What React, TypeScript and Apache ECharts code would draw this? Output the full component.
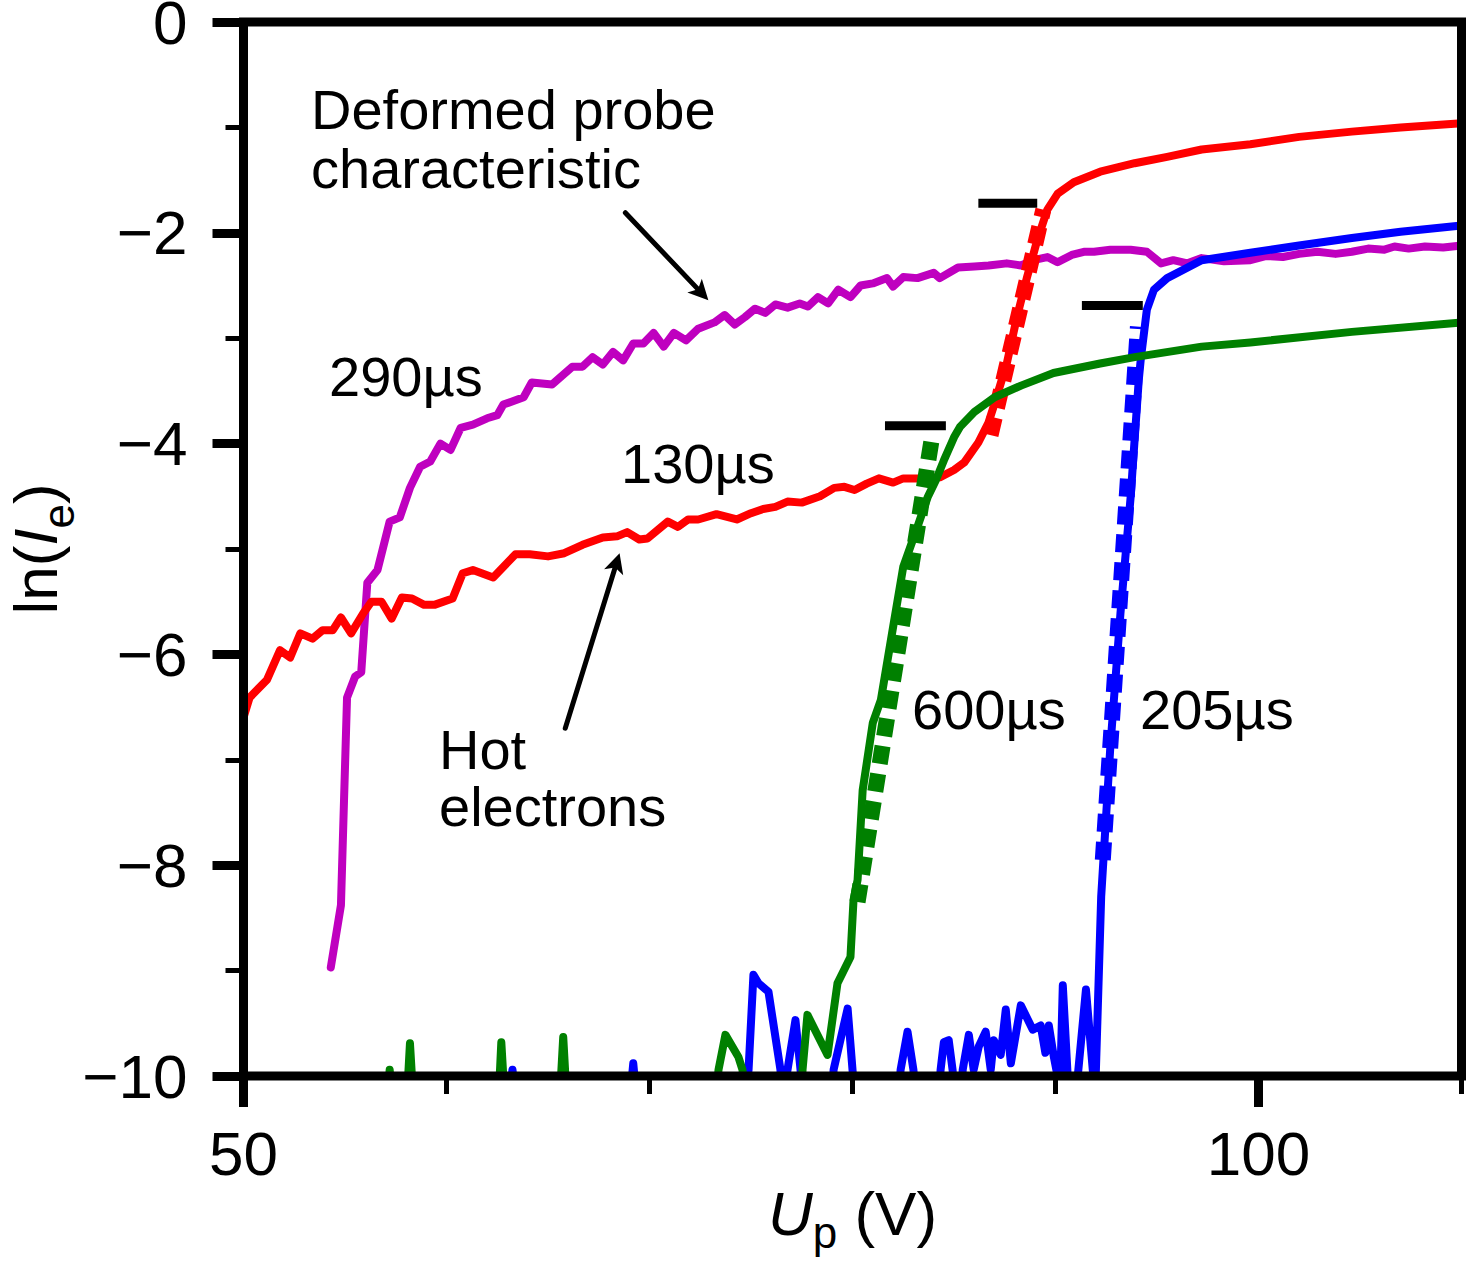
import React, { useEffect, useRef } from 'react';
import * as echarts from 'echarts';

const FONT = '"Liberation Sans", Arial, Helvetica, sans-serif';

const X_MIN = 50;
const X_MAX = 110;
const Y_MIN = -10;
const Y_MAX = 0;
const xMajorTicks = [50, 100];
const xAllTicksInterval = 10;
const yTickInterval = 2;

// 130 µs (red)
const curve130: [number, number][] = [
  [50, -6.6], [50.3, -6.41], [51.16, -6.24], [51.8, -5.96], [52.3, -6.03], [52.8, -5.8], [53.4, -5.85],
  [53.9, -5.77], [54.4, -5.77], [54.8, -5.65], [55.3, -5.8], [55.9, -5.61], [56.3, -5.5], [56.8, -5.5],
  [57.3, -5.66], [57.8, -5.46], [58.3, -5.47], [58.9, -5.53], [59.4, -5.53], [60.3, -5.47], [60.8, -5.23],
  [61.3, -5.2], [62.3, -5.27], [63.4, -5.05], [64.1, -5.05], [65.0, -5.07], [65.8, -5.04], [66.7, -4.96],
  [67.7, -4.89], [68.4, -4.88], [68.9, -4.84], [69.5, -4.91], [69.9, -4.9], [70.9, -4.74], [71.4, -4.79],
  [71.9, -4.72], [72.4, -4.72], [73.3, -4.67], [74.3, -4.72], [75.0, -4.66], [75.6, -4.62], [76.2, -4.6],
  [76.8, -4.55], [77.5, -4.56], [78.4, -4.5], [79.1, -4.42], [79.6, -4.41], [80.1, -4.44], [80.7, -4.38],
  [81.3, -4.33], [82.0, -4.37], [82.5, -4.33], [83.4, -4.33], [84.3, -4.32], [85.0, -4.25], [85.5, -4.18],
  [86.2, -3.99], [86.7, -3.8], [87.0, -3.62], [87.6, -3.24], [88.1, -2.8], [88.6, -2.42], [89.1, -2.07],
  [89.6, -1.78], [90.1, -1.63], [90.9, -1.52], [92.2, -1.42], [93.9, -1.34], [95.5, -1.28], [97.2, -1.21],
  [99.6, -1.16], [102.0, -1.09], [104.6, -1.04], [107.0, -1.0], [110, -0.96],
];

// 290 µs (magenta)
const curve290: [number, number][] = [
  [54.3, -8.97], [54.8, -8.38], [55.1, -6.41], [55.5, -6.21], [55.8, -6.17], [56.1, -5.32], [56.6, -5.2],
  [57.2, -4.74], [57.7, -4.7], [58.2, -4.42], [58.7, -4.22], [59.2, -4.17], [59.7, -4.0], [60.2, -4.06],
  [60.7, -3.85], [61.3, -3.82], [62.0, -3.76], [62.5, -3.73], [62.8, -3.63], [63.8, -3.56], [64.2, -3.42],
  [65.2, -3.44], [66.2, -3.27], [66.7, -3.27], [67.2, -3.18], [67.7, -3.25], [68.2, -3.13], [68.7, -3.21],
  [69.2, -3.05], [69.7, -3.05], [70.2, -2.95], [70.7, -3.08], [71.2, -2.95], [71.8, -3.02], [72.4, -2.91],
  [73.2, -2.85], [73.7, -2.78], [74.2, -2.87], [74.7, -2.8], [75.2, -2.72], [75.7, -2.76], [76.2, -2.68],
  [76.8, -2.71], [77.4, -2.67], [77.8, -2.7], [78.3, -2.61], [78.8, -2.67], [79.3, -2.54], [79.9, -2.61],
  [80.4, -2.5], [81.0, -2.48], [81.7, -2.43], [82.0, -2.51], [82.5, -2.42], [83.2, -2.43], [84.0, -2.38],
  [84.3, -2.43], [85.2, -2.33], [86.0, -2.32], [86.7, -2.31], [87.6, -2.29], [88.3, -2.31], [88.9, -2.26],
  [89.6, -2.23], [90.1, -2.28], [90.8, -2.21], [91.4, -2.18], [91.9, -2.18], [92.7, -2.16], [93.7, -2.16],
  [94.5, -2.18], [95.2, -2.29], [95.8, -2.26], [96.5, -2.29], [97.2, -2.24], [98.3, -2.27], [99.6, -2.26],
  [100.4, -2.22], [101.2, -2.23], [102.0, -2.2], [102.9, -2.18], [103.8, -2.2], [104.6, -2.18], [105.4, -2.15],
  [106.2, -2.16], [106.7, -2.13], [107.4, -2.15], [108.2, -2.13], [109.1, -2.14], [110, -2.12],
];

// 205 µs (blue)
const curve205: [number, number][] = [
  [50, -10.6], [62.9, -10.5], [63.25, -9.94], [63.6, -10.5], [68.9, -10.5], [69.2, -9.88], [69.5, -10.5],
  [74.6, -10.4], [74.88, -9.94], [75.12, -9.04], [75.37, -9.12], [75.86, -9.2], [76.45, -9.94], [76.6, -10.4],
  [76.75, -10.0], [77.19, -9.47], [77.44, -9.94], [77.6, -10.4], [78.9, -10.4], [79.07, -9.94], [79.76, -9.36],
  [80.0, -9.94], [80.2, -10.4], [82.2, -10.4], [82.37, -9.94], [82.71, -9.58], [83.0, -9.94], [83.2, -10.4],
  [84.2, -10.4], [84.34, -9.94], [84.5, -9.68], [84.74, -9.66], [84.93, -9.94], [85.1, -10.4], [85.3, -10.4],
  [85.43, -9.94], [85.73, -9.61], [85.97, -9.94], [86.22, -9.72], [86.56, -9.58], [86.81, -9.94], [86.96, -9.66],
  [87.3, -9.8], [87.55, -9.37], [87.8, -9.88], [88.29, -9.33], [88.88, -9.56], [89.27, -9.52], [89.5, -9.78],
  [89.67, -9.52], [89.92, -9.82], [90.1, -10.0], [90.2, -10.3], [90.36, -9.14], [90.6, -10.0], [90.7, -10.4],
  [90.9, -10.4], [91.5, -9.18], [91.95, -10.2], [92.25, -8.3], [92.7, -6.88], [93.2, -5.61], [93.7, -4.51],
  [94.1, -3.4], [94.2, -3.2], [94.5, -2.73], [94.85, -2.54], [95.5, -2.43], [97.2, -2.26], [99.6, -2.19],
  [102.0, -2.12], [104.6, -2.05], [107.0, -1.99], [110, -1.93],
];

// 600 µs (green)
const curve600: [number, number][] = [
  [50, -10.6], [57.0, -10.5], [57.2, -9.94], [57.4, -10.4], [58.0, -10.4], [58.2, -9.69], [58.45, -10.5],
  [62.5, -10.5], [62.7, -9.68], [62.95, -10.5], [65.5, -10.5], [65.75, -9.63], [66.0, -10.5], [73.2, -10.4],
  [73.4, -9.94], [73.74, -9.61], [74.38, -9.82], [74.58, -9.94], [74.8, -10.4], [77.4, -10.4], [77.54, -9.94],
  [77.78, -9.42], [78.77, -9.8], [79.26, -9.12], [79.9, -8.87], [80.05, -8.33], [80.25, -8.14], [80.5, -7.29],
  [81.0, -6.65], [81.4, -6.43], [82.0, -5.74], [82.5, -5.17], [83.2, -4.79], [83.7, -4.51], [84.1, -4.35],
  [84.5, -4.16], [85.0, -3.94], [85.3, -3.84], [86.0, -3.7], [87.0, -3.56], [88.3, -3.45], [89.9, -3.33],
  [92.2, -3.24], [93.9, -3.18], [97.2, -3.08], [99.6, -3.04], [104.6, -2.94], [110, -2.85],
];

// exponential fits (dashed) and saturation levels (black bars)
const fit130: [number, number][] = [[86.8, -3.92], [89.4, -1.78]];
const fit600: [number, number][] = [[80.25, -8.35], [83.95, -3.9]];
const fit205: [number, number][] = [[92.33, -7.95], [94.06, -2.89]];
const level130: [number, number][] = [[86.2, -1.72], [89.1, -1.72]];
const level600: [number, number][] = [[81.6, -3.83], [84.6, -3.83]];
const level205: [number, number][] = [[91.3, -2.69], [94.3, -2.69]];

// annotation arrows (data coordinates, start -> end)
const arrowDeformed: [number, number][] = [[68.81, -1.81], [72.56, -2.57]];
const arrowHot: [number, number][] = [[65.85, -6.7], [68.38, -5.13]];

const COLORS = { red: '#ff0000', magenta: '#bf00bf', blue: '#0000ff', green: '#008000', black: '#000000' };

const solid = (name: string, data: [number, number][], color: string) => ({
  type: 'line', name, data, symbol: 'none', showSymbol: false, smooth: false, silent: true,
  lineStyle: { color, width: 8, cap: 'round', join: 'round' }, itemStyle: { color },
});
const dashed = (name: string, data: [number, number][], color: string) => ({
  type: 'line', name, data, symbol: 'none', showSymbol: false, silent: true,
  lineStyle: { color, width: 16, type: [18, 10], cap: 'butt', join: 'miter' }, itemStyle: { color },
});
const bar = (name: string, data: [number, number][]) => ({
  type: 'line', name, data, symbol: 'none', showSymbol: false, silent: true,
  lineStyle: { color: '#000', width: 9, cap: 'butt' }, itemStyle: { color: '#000' },
});

const GRID = {
  left: 243.5, top: 22, width: 1218, height: 1054,
  containLabel: false, outerBoundsMode: 'none',
};

const textEl = (text: string, x: number, y: number, lineHeight = 56) => ({
  type: 'text', x, y, z: 100, silent: true,
  style: {
    text, fill: '#000', font: `56px ${FONT}`, fontSize: 56, fontFamily: FONT, lineHeight,
    align: 'left', verticalAlign: 'middle', textAlign: 'left', textVerticalAlign: 'middle',
  },
});

const option: any = {
  animation: false,
  backgroundColor: '#ffffff',
  textStyle: { fontFamily: FONT },
  grid: [
    { ...GRID, show: true, z: 10, backgroundColor: 'transparent', borderColor: '#000', borderWidth: 9 },
    { ...GRID, show: false },
  ],
  xAxis: [
    {
      type: 'value', gridIndex: 0, position: 'bottom', min: X_MIN, max: X_MAX, interval: xAllTicksInterval,
      axisLine: { show: false, onZero: false },
      axisTick: { show: true, customValues: xMajorTicks, length: 31, lineStyle: { color: '#000', width: 9 } },
      axisLabel: { show: true, customValues: xMajorTicks, margin: 46, color: '#000', fontSize: 62, fontFamily: FONT },
      splitLine: { show: false },
      name: '{i|U}{s|p}{n| (V)}',
      nameLocation: 'middle',
      nameGap: 106,
      nameMoveOverlap: false,
      nameTextStyle: {
        color: '#000', fontSize: 62, fontFamily: FONT,
        rich: {
          i: { fontStyle: 'italic', fontSize: 62, lineHeight: 62, fontFamily: FONT, color: '#000' },
          s: { fontSize: 44, lineHeight: 20, padding: [38, 0, 0, 0], fontFamily: FONT, color: '#000' },
          n: { fontSize: 62, lineHeight: 62, fontFamily: FONT, color: '#000' },
        },
      },
    },
    {
      type: 'value', gridIndex: 1, position: 'bottom', min: X_MIN, max: X_MAX, interval: xAllTicksInterval,
      axisLine: { show: false, onZero: false },
      axisTick: { show: true, length: 18, lineStyle: { color: '#000', width: 5 } },
      axisLabel: { show: false },
      splitLine: { show: false },
    },
  ],
  yAxis: [
    {
      type: 'value', gridIndex: 0, position: 'left', min: Y_MIN, max: Y_MAX, interval: yTickInterval,
      axisLine: { show: false, onZero: false },
      axisTick: { show: true, length: 31, lineStyle: { color: '#000', width: 9 } },
      minorTick: { show: true, splitNumber: 2, length: 18, lineStyle: { color: '#000', width: 5 } },
      axisLabel: {
        margin: 56, color: '#000', fontSize: 62, lineHeight: 40, fontFamily: FONT,
        formatter: (v: number) => (v < 0 ? '\u2212' + Math.abs(v) : String(v)),
      },
      splitLine: { show: false },
      minorSplitLine: { show: false },
      name: '{n|ln(}{i|I}{s|e}{n|)}',
      nameLocation: 'middle',
      nameRotate: 90,
      nameGap: 177,
      nameMoveOverlap: false,
      nameTextStyle: {
        color: '#000', fontSize: 62, fontFamily: FONT,
        rich: {
          i: { fontStyle: 'italic', fontSize: 62, lineHeight: 62, fontFamily: FONT, color: '#000' },
          s: { fontSize: 44, lineHeight: 20, padding: [46, 0, 0, 0], fontFamily: FONT, color: '#000' },
          n: { fontSize: 62, lineHeight: 62, fontFamily: FONT, color: '#000' },
        },
      },
    },
    {
      type: 'value', gridIndex: 1, position: 'left', min: Y_MIN, max: Y_MAX, show: false,
      axisLine: { show: false, onZero: false },
    },
  ],
  series: [
    solid('290µs', curve290, COLORS.magenta),
    solid('130µs', curve130, COLORS.red),
    dashed('130µs fit', fit130, COLORS.red),
    solid('205µs', curve205, COLORS.blue),
    dashed('205µs fit', fit205, COLORS.blue),
    solid('600µs', curve600, COLORS.green),
    dashed('600µs fit', fit600, COLORS.green),
    bar('130µs level', level130),
    bar('600µs level', level600),
    {
      ...bar('205µs level', level205),
      markLine: {
        silent: true,
        symbol: ['none', 'path://M10,0 L20,20 L10,15 L0,20 Z'],
        symbolSize: 20,
        label: { show: false },
        lineStyle: { color: '#000', width: 5, type: 'solid', cap: 'round' },
        itemStyle: { color: '#000' },
        emphasis: { disabled: true },
        data: [
          [{ coord: arrowDeformed[0] }, { coord: arrowDeformed[1] }],
          [{ coord: arrowHot[0] }, { coord: arrowHot[1] }],
        ],
      },
    },
  ],
  graphic: [
    textEl('Deformed probe\ncharacteristic', 311, 138.5, 59),
    textEl('290µs', 329, 376),
    textEl('130µs', 621, 463),
    textEl('600µs', 912, 709),
    textEl('205µs', 1140, 709),
    textEl('Hot\nelectrons', 439, 778, 57),
  ],
};

export default function App() {
  const ref = useRef<HTMLDivElement>(null);
  useEffect(() => {
    if (!ref.current) return;
    const chart = echarts.init(ref.current, null, { renderer: 'svg' });
    chart.setOption(option);
    return () => chart.dispose();
  }, []);
  return (
    <div
      ref={ref}
      style={{ position: 'absolute', left: 0, top: 0, width: 1466, height: 1262, background: '#fff' }}
    />
  );
}
